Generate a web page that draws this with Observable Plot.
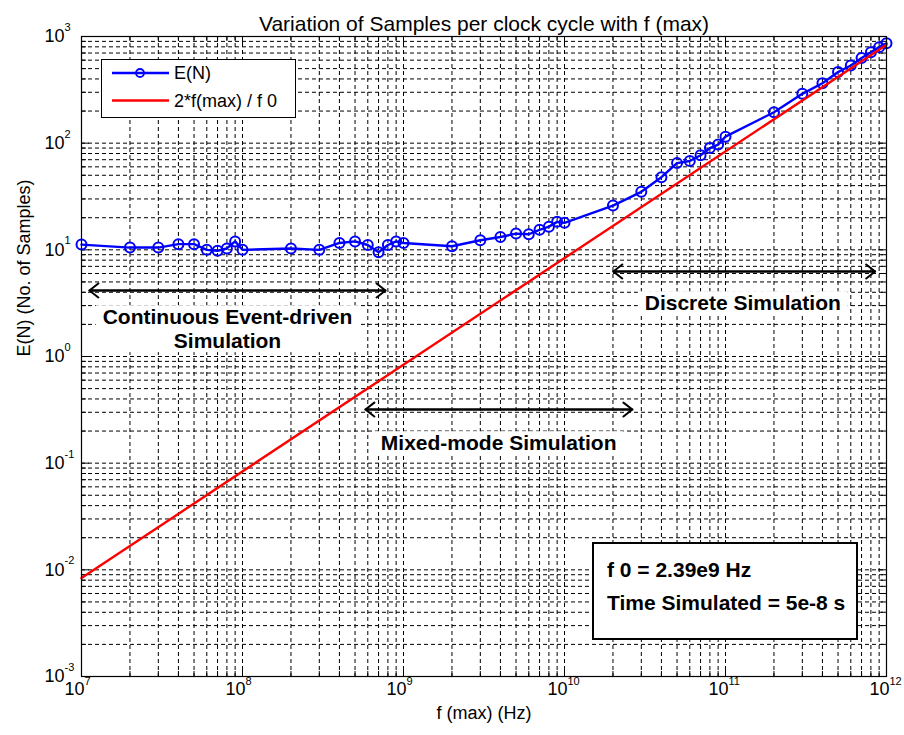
<!DOCTYPE html>
<html><head><meta charset="utf-8">
<script src="https://cdn.jsdelivr.net/npm/d3@7"></script>
<script src="https://cdn.jsdelivr.net/npm/@observablehq/plot@0.6"></script>
<style>body{margin:0;background:#fff}svg{display:block}</style>
</head><body><div id="chart"></div>
<script>
// ---- data ----
const fmax = [1e7,2e7,3e7,4e7,5e7,6e7,7e7,8e7,9e7,1e8,
              2e8,3e8,4e8,5e8,6e8,7e8,8e8,9e8,1e9,
              2e9,3e9,4e9,5e9,6e9,7e9,8e9,9e9,1e10,
              2e10,3e10,4e10,5e10,6e10,7e10,8e10,9e10,1e11,
              2e11,3e11,4e11,5e11,6e11,7e11,8e11,9e11,1e12];
const EN   = [11.2,10.5,10.5,11.3,11.3,10.0,9.8,10.3,12.0,10.0,
              10.3,10.0,11.6,12.0,11.1,9.5,11.1,12.0,11.6,
              10.8,12.3,13.2,14.2,14.0,15.4,16.5,18.3,17.9,
              26,35,48,65,68,77,90,97,115,
              195,290,365,464,535,630,712,795,865];
const refF = [1e7, 1e12];
const refN = [0.00837, 837];

const xExp = [7, 8, 9, 10, 11, 12];
const yExp = [-3, -2, -1, 0, 1, 2, 3];

const seriesNames = ["E(N)", "2*f(max) / f 0"];
const titleText = "Variation of Samples per clock cycle with f (max)";
const xLabel = "f (max) (Hz)";
const yLabel = "E(N) (No. of Samples)";

const arrowFrom  = [1.12e7, 5.8e8, 2.01e10];
const arrowTo    = [7.73e8, 2.64e10, 8.5e11];
const arrowLevel = [4.16, 0.318, 6.27];

const regionNames = ["Continuous Event-driven\nSimulation", "Mixed-mode Simulation", "Discrete Simulation"];
const regionX = [8.07e7, 3.9e9, 1.28e11];
const regionY = [1.83, 0.156, 3.2];

const infoLines = ["f 0 = 2.39e9 Hz", "Time Simulated = 5e-8 s"];

// ---- build ----
const FONT = "'Liberation Sans', Arial, Helvetica, sans-serif";
const W = 904, H = 735, ML = 81, MR = 18, MT = 36, MB = 59;
const FW = W - ML - MR, FH = H - MT - MB;

const gridX = [], majorX = xExp.map(e => 10 ** e), minorX = [];
for (const e of xExp.slice(0, -1)) for (let m = 1; m <= 9; m++) { gridX.push(m * 10 ** e); if (m > 1) minorX.push(m * 10 ** e); }
const gridY = [], majorY = yExp.map(e => 10 ** e), minorY = [];
for (const e of yExp.slice(0, -1)) for (let m = 1; m <= 9; m++) { gridY.push(m * 10 ** e); if (m > 1) minorY.push(m * 10 ** e); }

const blue = fmax.map((f, i) => ({f, n: EN[i]}));
const red = refF.map((f, i) => ({f, n: refN[i]}));
const arrows = arrowFrom.map((a, i) => ({a, b: arrowTo[i], y: arrowLevel[i]}));
const regions = regionNames.map((t, i) => ({t, x: regionX[i], y: regionY[i]}));

const gridStyle = {stroke: "#000", strokeWidth: 1, strokeDasharray: "4,3", strokeOpacity: 1};
const MAJ = 8, MIN = 5;

const chart = Plot.plot({
  width: W, height: H,
  marginLeft: ML, marginRight: MR, marginTop: MT, marginBottom: MB,
  style: {fontFamily: FONT, fontSize: "18px", background: "white", color: "black", overflow: "visible"},
  x: {type: "log", domain: [1e7, 1e12], axis: null},
  y: {type: "log", domain: [1e-3, 1e3], axis: null},
  marks: [
    Plot.ruleX(gridX.slice(1), gridStyle),
    Plot.ruleY(gridY.slice(1), gridStyle),
    // inward ticks on all four sides
    Plot.ruleX(majorX, {stroke: "#000", insetTop: FH - MAJ}),
    Plot.ruleX(minorX, {stroke: "#000", insetTop: FH - MIN}),
    Plot.ruleX(majorX, {stroke: "#000", insetBottom: FH - MAJ}),
    Plot.ruleX(minorX, {stroke: "#000", insetBottom: FH - MIN}),
    Plot.ruleY(majorY, {stroke: "#000", insetRight: FW - MAJ}),
    Plot.ruleY(minorY, {stroke: "#000", insetRight: FW - MIN}),
    Plot.ruleY(majorY, {stroke: "#000", insetLeft: FW - MAJ}),
    Plot.ruleY(minorY, {stroke: "#000", insetLeft: FW - MIN}),
    // series
    Plot.line(blue, {x: "f", y: "n", stroke: "#0000ff", strokeWidth: 2.4}),
    Plot.dot(blue, {x: "f", y: "n", r: 5, stroke: "#0000ff", strokeWidth: 2, fill: "none"}),
    Plot.line(red, {x: "f", y: "n", stroke: "#ff0000", strokeWidth: 2.4}),
    // annotations
    Plot.arrow(arrows, {x1: "a", x2: "b", y1: "y", y2: "y", stroke: "#000", strokeWidth: 2, headLength: 8.5, headAngle: 76}),
    Plot.arrow(arrows, {x1: "b", x2: "a", y1: "y", y2: "y", stroke: "#000", strokeWidth: 2, headLength: 8.5, headAngle: 76}),
    Plot.text(regions, {x: "x", y: "y", text: "t", fontSize: 21, fontWeight: "bold", lineHeight: 1.14, fill: "#000", ariaDescription: "annotation"}),
    // tick labels
    Plot.text(xExp, {x: d => 10 ** d, frameAnchor: "bottom", text: () => "10", textAnchor: "end", dx: 3, dy: 18, fontSize: 18}),
    Plot.text(xExp, {x: d => 10 ** d, frameAnchor: "bottom", text: d => String(d), textAnchor: "start", dx: 3, dy: 8, fontSize: 11}),
    Plot.text(yExp, {y: d => 10 ** d, frameAnchor: "left", text: () => "10", textAnchor: "end", dx: -17, fontSize: 18}),
    Plot.text(yExp, {y: d => 10 ** d, frameAnchor: "left", text: d => String(d), textAnchor: "start", dx: -17, dy: -9, fontSize: 11}),
    // titles
    Plot.text([titleText], {frameAnchor: "top", dy: -20, fontSize: 21}),
    Plot.text([xLabel], {frameAnchor: "bottom", dy: 42, fontSize: 18}),
    Plot.text([yLabel], {frameAnchor: "left", dx: -57, rotate: -90, fontSize: 18}),
    Plot.frame({stroke: "#000", strokeWidth: 1.2})
  ]
});
document.getElementById("chart").append(chart);

// white backgrounds behind region labels
for (const t of chart.querySelectorAll('g[aria-description="annotation"] text')) {
  const b = t.getBBox();
  const r = document.createElementNS("http://www.w3.org/2000/svg", "rect");
  r.setAttribute("x", b.x - 7); r.setAttribute("y", b.y);
  r.setAttribute("width", b.width + 14); r.setAttribute("height", b.height);
  r.setAttribute("fill", "white"); r.setAttribute("stroke", "none");
  if (t.getAttribute("transform")) r.setAttribute("transform", t.getAttribute("transform"));
  t.parentNode.insertBefore(r, t);
}

const svg = d3.select(chart);
// legend
const lg = svg.append("g").attr("font-family", FONT).attr("font-size", 18).attr("text-anchor", "start");
lg.append("rect").attr("x", ML + 20.5).attr("y", MT + 23.5).attr("width", 194).attr("height", 58)
  .attr("fill", "white").attr("stroke", "#000");
const legendColors = ["#0000ff", "#ff0000"];
seriesNames.forEach((name, i) => {
  const yy = MT + 37 + i * 27.5;
  lg.append("line").attr("x1", ML + 31).attr("x2", ML + 88).attr("y1", yy).attr("y2", yy)
    .attr("stroke", legendColors[i]).attr("stroke-width", 2.4);
  if (i === 0) lg.append("circle").attr("cx", ML + 59).attr("cy", yy).attr("r", 4)
    .attr("fill", "none").attr("stroke", legendColors[i]).attr("stroke-width", 1.8);
  lg.append("text").attr("x", ML + 93).attr("y", yy).attr("dy", "0.35em").attr("text-anchor", "start").text(name);
});
// info box
const ib = svg.append("g").attr("font-family", FONT).attr("font-size", 21).attr("font-weight", "bold").attr("text-anchor", "start");
ib.append("rect").attr("x", 593).attr("y", 543).attr("width", 264).attr("height", 96)
  .attr("fill", "white").attr("stroke", "#000").attr("stroke-width", 2);
infoLines.forEach((s, i) => {
  ib.append("text").attr("x", 607).attr("y", 570 + i * 33).attr("dy", "0.35em").attr("text-anchor", "start").text(s);
});
</script>
</body></html>
